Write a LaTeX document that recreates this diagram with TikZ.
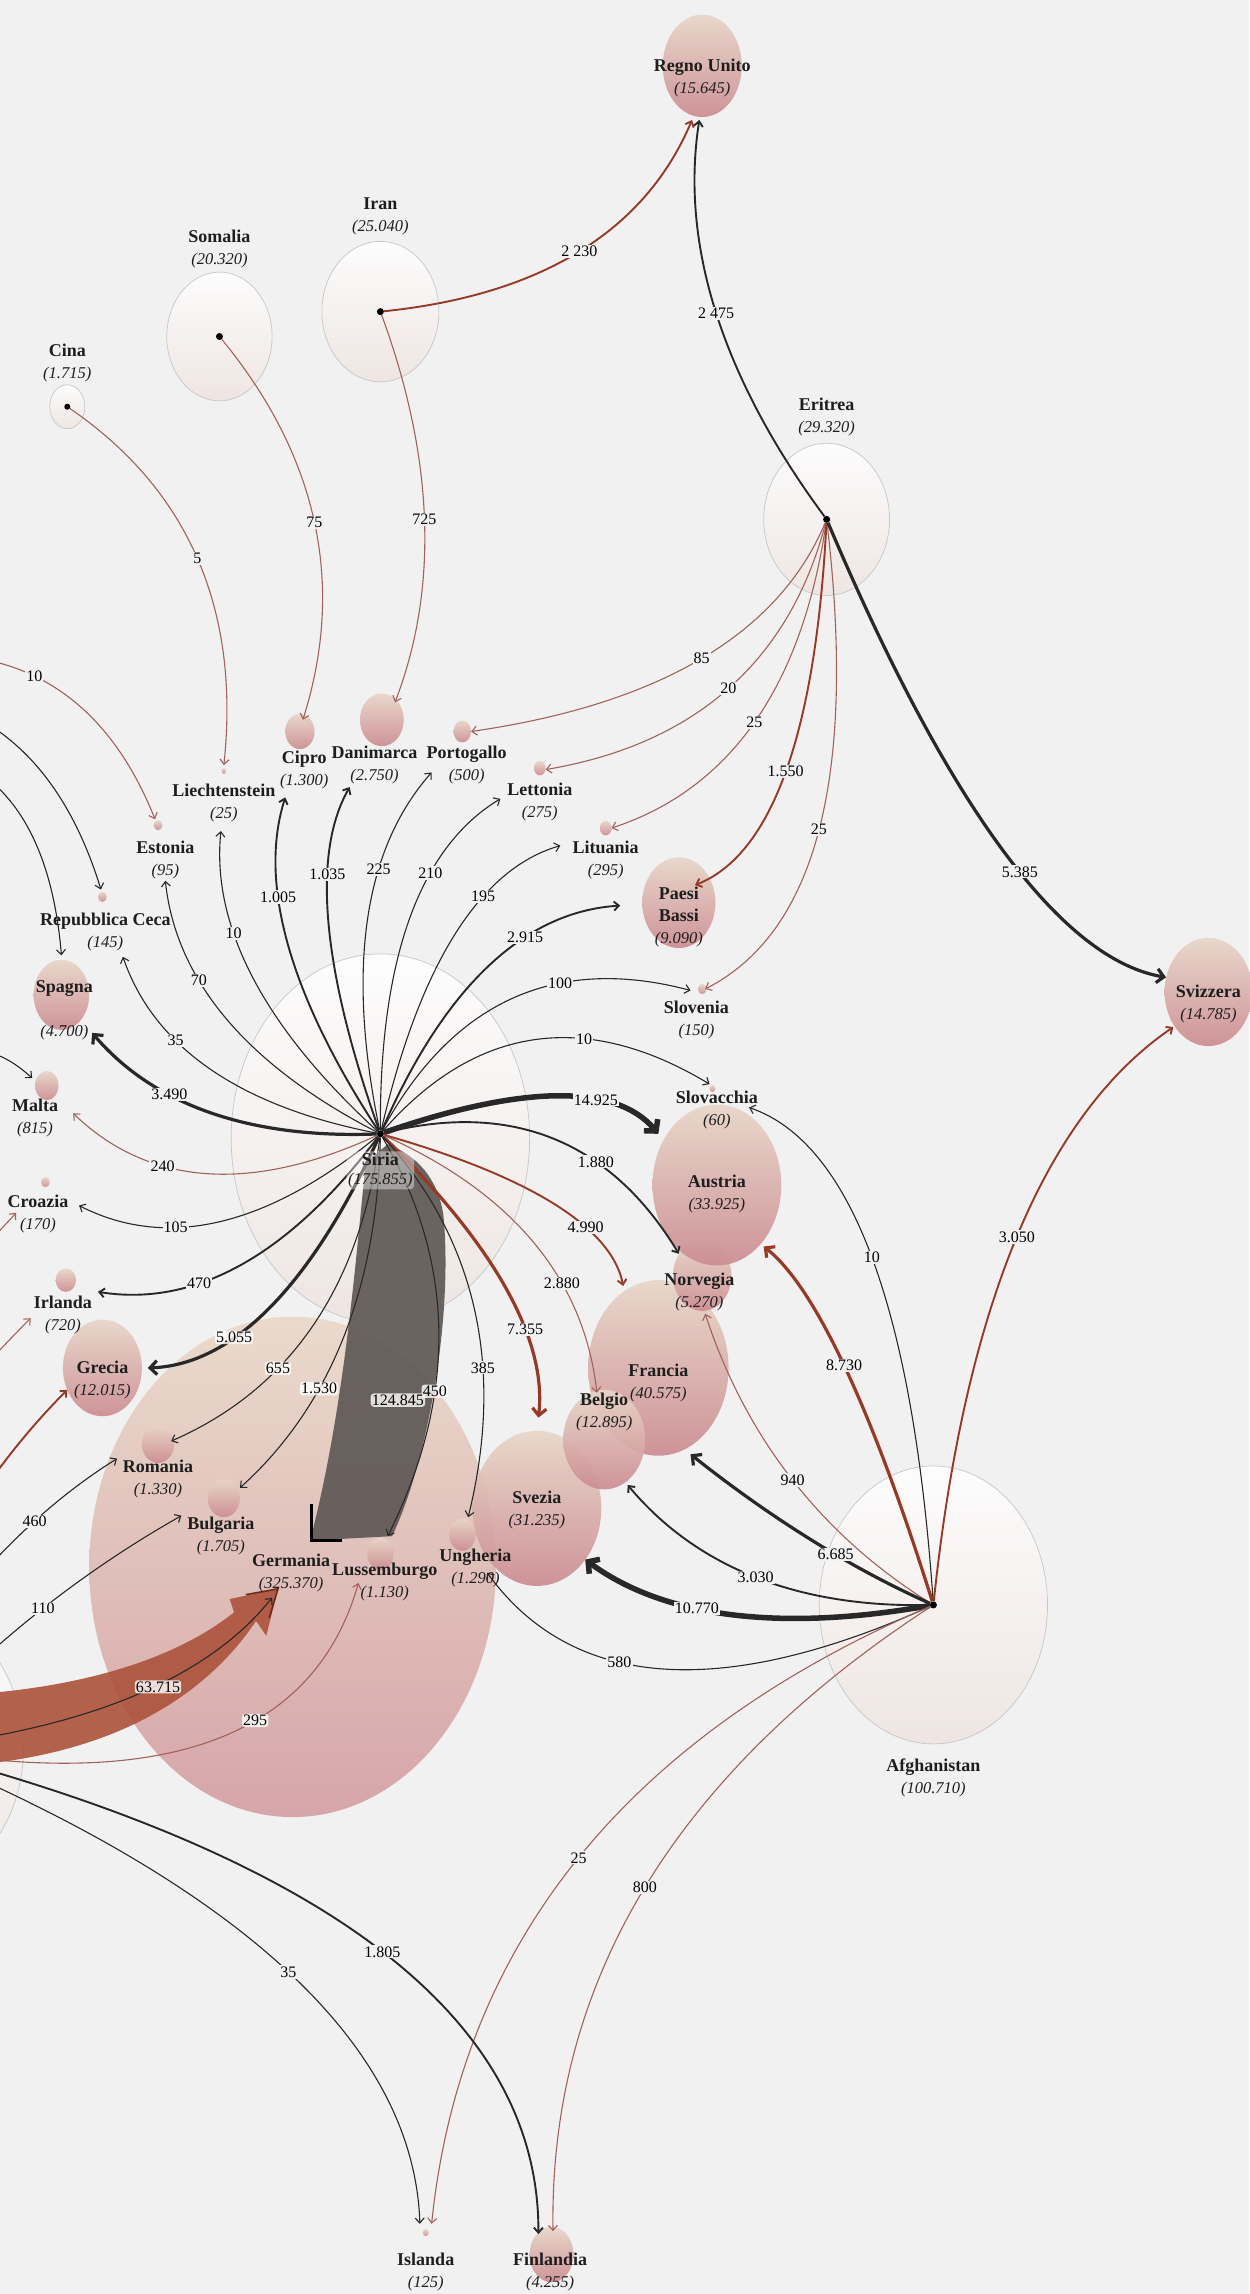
\documentclass[tikz,border=0pt]{standalone}
\usepackage{fontspec}
\setmainfont{Liberation Serif}
\usetikzlibrary{arrows.meta,calc,shapes.geometric}
\definecolor{bg}{RGB}{241,241,241}
\definecolor{dk}{RGB}{40,40,40}
\definecolor{rd}{RGB}{150,58,40}
\definecolor{rt}{RGB}{160,98,90}
\definecolor{txt}{RGB}{30,30,30}
\definecolor{sphT}{RGB}{232,214,200}
\definecolor{sphB}{RGB}{204,140,145}
\definecolor{gerT}{RGB}{234,218,204}
\definecolor{gerB}{RGB}{214,165,168}
\definecolor{orgB}{RGB}{238,228,224}
\definecolor{bandR}{RGB}{172,82,58}
\definecolor{bandG}{RGB}{95,88,85}
\newcommand\nmf[1]{{\bfseries\fontsize{18}{22}\selectfont #1}}
\newcommand\nmn[1]{{\itshape\fontsize{16.5}{22}\selectfont #1}}
\newcommand\ctry[2]{\nmf{#1}\\\nmn{#2}}
\begin{document}
\begin{tikzpicture}[x=1.4625pt,y=-1.4625pt,
  sph/.style 2 args={ellipse, inner sep=0pt, minimum width=#1*2.925pt, minimum height=#2*2.925pt, top color=sphT, bottom color=sphB, fill opacity=0.92},
  ger/.style 2 args={ellipse, inner sep=0pt, minimum width=#1*2.925pt, minimum height=#2*2.925pt, top color=gerT, bottom color=gerB},
  org/.style 2 args={ellipse, inner sep=0pt, minimum width=#1*2.925pt, minimum height=#2*2.925pt, draw=black!22, line width=0.7pt, top color=white, bottom color=orgB, fill opacity=0.85},
  dot/.style={circle, fill=black, inner sep=0pt, minimum size=7pt},
  lab/.style={align=center, text=txt, inner sep=0pt, font=\fontsize{16}{22}\selectfont},
  elab/.style={font=\fontsize{16}{16}\selectfont, fill=bg, inner sep=1.2pt, text=black},
  elw/.style={elab, fill=white, fill opacity=0.8, text opacity=1, rounded corners=3pt},
  qc/.style={to path={.. controls ($(\tikztostart)!0.6667!(#1)$) and ($(\tikztotarget)!0.6667!(#1)$) .. (\tikztotarget) \tikztonodes}},
  edgebase/.style={-{Straight Barb[length=5pt,width=9pt]}},
  dk1/.style={edgebase, draw=dk, line width=1.1pt},
  dk2/.style={edgebase, draw=dk, line width=1.9pt},
  dk3/.style={draw=dk, line width=3.2pt, -{Straight Barb[length=7pt,width=14pt]}},
  dk5/.style={draw=dk, line width=5.5pt, -{Straight Barb[length=8pt,width=18pt]}},
  rd1/.style={edgebase, draw=rt, line width=1.1pt},
  rd2/.style={edgebase, draw=rd, line width=1.9pt},
  rd3/.style={draw=rd, line width=3.2pt, -{Straight Barb[length=7pt,width=14pt]}}
]
\useasboundingbox (0,0) rectangle (854,1568);
\clip (0,0) rectangle (854,1568);
\fill[bg] (0,0) rectangle (854,1568);

% ---- Germania (behind everything)
\node[ger={139}{171}] (ger) at (200,1071) {};

% ---- origin circles
\node[org={102}{126}] (siriaC) at (260,778) {};
\node[org={78}{95}] (afgC) at (638,1097) {};
\node[org={43}{52}] (eriC) at (565,355) {};
\node[org={40}{48}] (iranC) at (260,213) {};
\node[org={36}{44}] (somC) at (150,230) {};
\node[org={12}{15}] (cinaC) at (46,278) {};
\node[org={78}{96}] (lorC) at (-62,1195) {};

% ---- destination spheres
\node[sph={27}{35}] (ru) at (480,45) {};
\node[sph={1.5}{2}] (lie) at (153,527) {};
\node[sph={10}{12}] (cip) at (205,500) {};
\node[sph={15}{18}] (dan) at (261,492) {};
\node[sph={6}{7.5}] (por) at (316,500) {};
\node[sph={4}{5}] (let) at (369,525) {};
\node[sph={4}{5}] (lit) at (414,566) {};
\node[sph={25}{31}] (pb) at (464,617) {};
\node[sph={3}{3.5}] (slo) at (480,676) {};
\node[sph={3}{3.5}] (est) at (108,564) {};
\node[sph={3}{3.5}] (rc) at (70,613) {};
\node[sph={19}{24}] (spa) at (42,680) {};
\node[sph={8}{10}] (mal) at (32,742) {};
\node[sph={3}{3.5}] (cro) at (31,808) {};
\node[sph={7}{8}] (irl) at (45,875) {};
\node[sph={27}{33}] (gre) at (70,935) {};
\node[sph={11}{13}] (rom) at (108,987) {};
\node[sph={11}{13}] (bul) at (153,1024) {};
\node[sph={9}{11}] (lus) at (260,1062) {};
\node[sph={9}{11}] (ung) at (316,1049) {};
\node[sph={44}{53}] (sve) at (367,1031) {};
\node[sph={48}{60}] (fra) at (450,935) {};
\node[sph={20}{24}] (nor) at (480,872) {};
\node[sph={44}{55}] (aus) at (490,810) {};
\node[sph={28}{34}] (bel) at (413,984) {};
\node[sph={2}{2.5}] (slk) at (487,744) {};
\node[sph={30}{37}] (svi) at (826,678) {};
\node[sph={2}{2.5}] (isl) at (291,1526) {};
\node[sph={15}{19}] (fin) at (377,1541) {};

% ---- origin dots
\node[dot] (siria) at (260,775) {};
\node[dot] (afg) at (638,1097) {};
\node[dot] (eri) at (565,355) {};
\node[dot] (iran) at (260,213) {};
\node[dot] (som) at (150,230) {};
\node[dot, minimum size=6pt] (cina) at (46,278) {};
\node[dot] (lor) at (-62,1195) {};

% ---- arrow tips
\coordinate (tS1) at (151,568); \coordinate (tS2) at (113,602); \coordinate (tS3) at (84,654);
\coordinate (tS4) at (195,545); \coordinate (tS5) at (239,538); \coordinate (tS6) at (295,528);
\coordinate (tS7) at (342,546); \coordinate (tS8) at (383,578); \coordinate (tS9) at (424,619);
\coordinate (tS10) at (472,677); \coordinate (tS11) at (485,741); \coordinate (tS12) at (450,775);
\coordinate (tS13) at (464,857); \coordinate (tS14) at (426,879); \coordinate (tS15) at (408,952);
\coordinate (tS16) at (368,969); \coordinate (tS17) at (320,1037); \coordinate (tS18) at (265,1050);
\coordinate (tS19) at (164,1017); \coordinate (tS20) at (117,985); \coordinate (tS21) at (101,935);
\coordinate (tS22) at (67,883); \coordinate (tS23) at (54,824); \coordinate (tS24) at (50,761);
\coordinate (tS25) at (63,706);
\coordinate (tE1) at (478,82); \coordinate (tE2) at (322,500); \coordinate (tE3) at (373,526);
\coordinate (tE4) at (418,566); \coordinate (tE5) at (475,605); \coordinate (tE6) at (482,676);
\coordinate (tE7) at (797,668);
\coordinate (tI1) at (473,82); \coordinate (tI2) at (270,480);
\coordinate (tSo) at (207,492); \coordinate (tC) at (153,523);
\coordinate (tA1) at (802,702); \coordinate (tA2) at (512,757); \coordinate (tA3) at (522,852);
\coordinate (tA4) at (482,898); \coordinate (tA5) at (472,994); \coordinate (tA6) at (429,1015);
\coordinate (tA7) at (400,1066); \coordinate (tA8) at (333,1075); \coordinate (tA9) at (295,1520);
\coordinate (tA10) at (378,1525);
\coordinate (tL1) at (245,1082); \coordinate (tL2) at (287,1520); \coordinate (tL3) at (368,1527);
\coordinate (tL4) at (186,1092);
\coordinate (oa) at (-5,452); \coordinate (ta) at (106,560);
\coordinate (ob) at (-5,497); \coordinate (tb) at (69,608);
\coordinate (oc) at (-5,535); \coordinate (tc) at (42,653);
\coordinate (od) at (-5,720); \coordinate (td) at (22,737);
\coordinate (oe) at (-5,846); \coordinate (te) at (11,829);
\coordinate (of) at (-5,928); \coordinate (tf) at (21,901);
\coordinate (og) at (-5,1010); \coordinate (tg) at (46,950);
\coordinate (oh) at (-5,1068); \coordinate (th) at (80,997);
\coordinate (oi) at (-5,1128); \coordinate (ti) at (124,1036);

% ---- wide bands
\fill[bandG, opacity=0.92] (250,795) .. controls (243,860) and (236,960) .. (212,1053) -- (268,1050) .. controls (292,1000) and (310,900) .. (303,830) .. controls (299,805) and (285,790) .. (265,782) -- cycle;
\draw[black, line width=2.5pt] (213,1028) -- (213,1053) -- (234,1053);
\fill[bandR, opacity=0.9] (-5,1157) .. controls (70,1150) and (125,1130) .. (160,1102) -- (157,1093) -- (190,1086) -- (182,1118) -- (175,1108) .. controls (140,1160) and (80,1195) .. (-5,1205) -- cycle;
\draw[rd!70!black, line width=1.6pt] (168,1090) -- (190,1086) -- (184,1106);

% ---- Siria edges
\draw[dk1] (siria) to[qc={141,666}] node[elab,pos=.65]{10} (tS1);
\draw[dk1] (siria) to[qc={124,705}] node[elab,pos=.65]{70} (tS2);
\draw[dk1] (siria) to[qc={116,747}] node[elab,pos=.65]{35} (tS3);
\draw[dk2] (siria) to[qc={167,633}] node[elab,pos=.65]{1.005} (tS4);
\draw[dk2] (siria) to[qc={200,606}] node[elab,pos=.65]{1.035} (tS5);
\draw[dk1] (siria) to[qc={225,607}] node[elab,pos=.65]{225} (tS6);
\draw[dk1] (siria) to[qc={259,596}] node[elab,pos=.65]{210} (tS7);
\draw[dk1] (siria) to[qc={300,602}] node[elab,pos=.65]{195} (tS8);
\draw[dk2] (siria) to[qc={325,625}] node[elab,pos=.65]{2.915} (tS9);
\draw[dk1] (siria) to[qc={333,640}] node[elab,pos=.65]{100} (tS10);
\draw[dk1] (siria) to[qc={357,664}] node[elab,pos=.65]{10} (tS11);
\draw[dk5] (siria) to[qc={407,724}] node[elab,pos=.65]{14.925} (tS12);
\draw[dk2] (siria) to[qc={394,741}] node[elab,pos=.65]{1.880} (tS13);
\draw[rd2] (siria) to[qc={414,819}] node[elab,pos=.65]{4.990} (tS14);
\draw[rd1] (siria) to[qc={395,835}] node[elab,pos=.65]{2.880} (tS15);
\draw[rd3] (siria) to[qc={377,889}] node[elab,pos=.65]{7.355} (tS16);
\draw[dk1] (siria) to[qc={358,883}] node[elab,pos=.65]{385} (tS17);
\draw[dk1] (siria) to[qc={337,906}] node[elw,pos=.65]{450} (tS18);
\draw[dk1] (siria) to[qc={257,933}] node[elw,pos=.65]{1.530} (tS19);
\draw[dk1] (siria) to[qc={239,932}] node[elw,pos=.65]{655} (tS20);
\draw[dk3] (siria) to[qc={188,932}] node[elw,pos=.65]{5.055} (tS21);
\draw[dk2] (siria) to[qc={167,899}] node[elab,pos=.65]{470} (tS22);
\draw[dk1] (siria) to[qc={144,870}] node[elab,pos=.65]{105} (tS23);
\draw[rd1] (siria) to[qc={128,836}] node[elab,pos=.65]{240} (tS24);
\draw[dk3] (siria) to[qc={126,780}] node[elab,pos=.65]{3.490} (tS25);
\node[elw] (l124) at (272,957) {124.845};

% ---- Eritrea edges
\draw[dk2] (eri) to[qc={458,210}] node[elab,pos=.5]{2 475} (tE1);
\draw[rd1] (eri) to[qc={516,472}] node[elab,pos=.5]{85} (tE2);
\draw[rd1] (eri) to[qc={527,500}] node[elab,pos=.5]{20} (tE3);
\draw[rd1] (eri) to[qc={540,526}] node[elab,pos=.5]{25} (tE4);
\draw[rd2] (eri) to[qc={554,574}] node[elab,pos=.5]{1.550} (tE5);
\draw[rd1] (eri) to[qc={596,618}] node[elab,pos=.5]{25} (tE6);
\draw[dk3] (eri) to[qc={690,650}] node[elab,pos=.55]{5.385} (tE7);

% ---- Iran, Somalia, Cina
\draw[rd2] (iran) to[qc={425,196}] node[elab,pos=.5]{2 230} (tI1);
\draw[rd1] (iran) to[qc={315,363}] node[elab,pos=.5]{725} (tI2);
\draw[rd1] (som) to[qc={251,353}] node[elab,pos=.5]{75} (tSo);
\draw[rd1] (cina) to[qc={170,363}] node[elab,pos=.5]{5} (tC);

% ---- Afghanistan edges
\draw[rd2] (afg) to[qc={670,792}] node[elab,pos=.5]{3.050} (tA1);
\draw[dk1] (afg) to[qc={617,793}] node[elab,pos=.5]{10} (tA2);
\draw[rd3] (afg) to[qc={574,893}] node[elab,pos=.5]{8.730} (tA3);
\draw[rd1] (afg) to[qc={524,1026}] node[elab,pos=.5]{940} (tA4);
\draw[dk3] (afg) to[qc={555,1060}] node[elab,pos=.4]{6.685} (tA5);
\draw[dk2] (afg) to[qc={500,1100}] node[elab,pos=.5]{3.030} (tA6);
\draw[dk5] (afg) to[qc={480,1125}] node[elab,pos=.6]{10.770} (tA7);
\draw[dk1] (afg) to[qc={420,1195}] node[elab,pos=.6]{580} (tA8);
\draw[rd1] (afg) to[qc={325,1231}] node[elab,pos=.5]{25} (tA9);
\draw[rd1] (afg) to[qc={374,1269}] node[elab,pos=.5]{800} (tA10);

% ---- left origin edges
\draw[dk1] (lor) to[qc={120,1175}] (tL4);
\draw[rd1] (lor) to[qc={200,1240}] node[elw,pos=.6]{295} (tL1);
\draw[dk1] (lor) to[qc={281,1338}] node[elab,pos=.5]{35} (tL2);
\draw[dk2] (lor) to[qc={369,1307}] node[elab,pos=.5]{1.805} (tL3);
\node[elw] (l637) at (108,1153) {63.715};

% ---- edges from outside the picture
\draw[rd1] (oa) to[qc={70,470}] node[elab,pos=.2]{10} (ta);
\draw[dk1] (ob) to[qc={45,530}] (tb);
\draw[dk1] (oc) to[qc={35,570}] (tc);
\draw[dk1] (od) to[qc={8,724}] (td);
\draw[rd1] (oe) to[qc={2,839}] (te);
\draw[rd1] (of) to[qc={7,915}] (tf);
\draw[rd2] (og) to[qc={18,978}] (tg);
\draw[dk1] (oh) to[qc={35,1025}] node[elab,pos=.35]{460} (th);
\draw[dk1] (oi) to[qc={55,1075}] node[elab,pos=.28]{110} (ti);

% ---- labels
\node[lab] (lRU) at (480,53) {\ctry{Regno Unito}{(15.645)}};
\node[lab] (lLie) at (153,549) {\ctry{Liechtenstein}{(25)}};
\node[lab] (lCip) at (208,526) {\ctry{Cipro}{(1.300)}};
\node[lab] (lDan) at (256,523) {\ctry{Danimarca}{(2.750)}};
\node[lab] (lPor) at (319,523) {\ctry{Portogallo}{(500)}};
\node[lab] (lLet) at (369,548) {\ctry{Lettonia}{(275)}};
\node[lab] (lLit) at (414,588) {\ctry{Lituania}{(295)}};
\node[lab] (lPB) at (464,627) {\nmf{Paesi}\\\nmf{Bassi}\\\nmn{(9.090)}};
\node[lab] (lSlo) at (476,697) {\ctry{Slovenia}{(150)}};
\node[lab] (lEst) at (113,588) {\ctry{Estonia}{(95)}};
\node[lab] (lRC) at (72,637) {\ctry{Repubblica Ceca}{(145)}};
\node[lab] (lSpa) at (44,676) {\nmf{Spagna}};
\node[lab] (lSpaN) at (44,706) {\nmn{(4.700)}};
\node[lab] (lMal) at (24,764) {\ctry{Malta}{(815)}};
\node[lab] (lCro) at (26,830) {\ctry{Croazia}{(170)}};
\node[lab] (lIrl) at (43,899) {\ctry{Irlanda}{(720)}};
\node[lab] (lGre) at (70,943) {\ctry{Grecia}{(12.015)}};
\node[lab] (lRom) at (108,1011) {\ctry{Romania}{(1.330)}};
\node[lab] (lBul) at (151,1050) {\ctry{Bulgaria}{(1.705)}};
\node[lab] (lGer) at (199,1075) {\ctry{Germania}{(325.370)}};
\node[lab] (lLus) at (263,1081) {\ctry{Lussemburgo}{(1.130)}};
\node[lab] (lUng) at (325,1072) {\ctry{Ungheria}{(1.290)}};
\node[lab] (lSve) at (367,1032) {\ctry{Svezia}{(31.235)}};
\node[lab] (lBel) at (413,965) {\ctry{Belgio}{(12.895)}};
\node[lab] (lFra) at (450,945) {\ctry{Francia}{(40.575)}};
\node[lab] (lNor) at (478,883) {\ctry{Norvegia}{(5.270)}};
\node[lab] (lAus) at (490,816) {\ctry{Austria}{(33.925)}};
\node[lab] (lSlk) at (490,759) {\ctry{Slovacchia}{(60)}};
\node[lab] (lSvi) at (826,686) {\ctry{Svizzera}{(14.785)}};
\node[lab] (lIsl) at (291,1553) {\ctry{Islanda}{(125)}};
\node[lab] (lFin) at (376,1553) {\ctry{Finlandia}{(4.255)}};
\node[lab] (lCina) at (46,248) {\ctry{Cina}{(1.715)}};
\node[lab] (lSom) at (150,170) {\ctry{Somalia}{(20.320)}};
\node[lab] (lIran) at (260,148) {\ctry{Iran}{(25.040)}};
\node[lab] (lEri) at (565,285) {\ctry{Eritrea}{(29.320)}};
\node[lab] (lAfg) at (638,1215) {\ctry{Afghanistan}{(100.710)}};
\node[lab, fill=white, fill opacity=0.4, text opacity=1, rounded corners=4pt, inner sep=1.5pt, font=\fontsize{16}{19}\selectfont] (lSir) at (260,800) {{\bfseries\fontsize{18}{19}\selectfont Siria}\\{\itshape\fontsize{16.5}{19}\selectfont (175.855)}};
\end{tikzpicture}
\end{document}
